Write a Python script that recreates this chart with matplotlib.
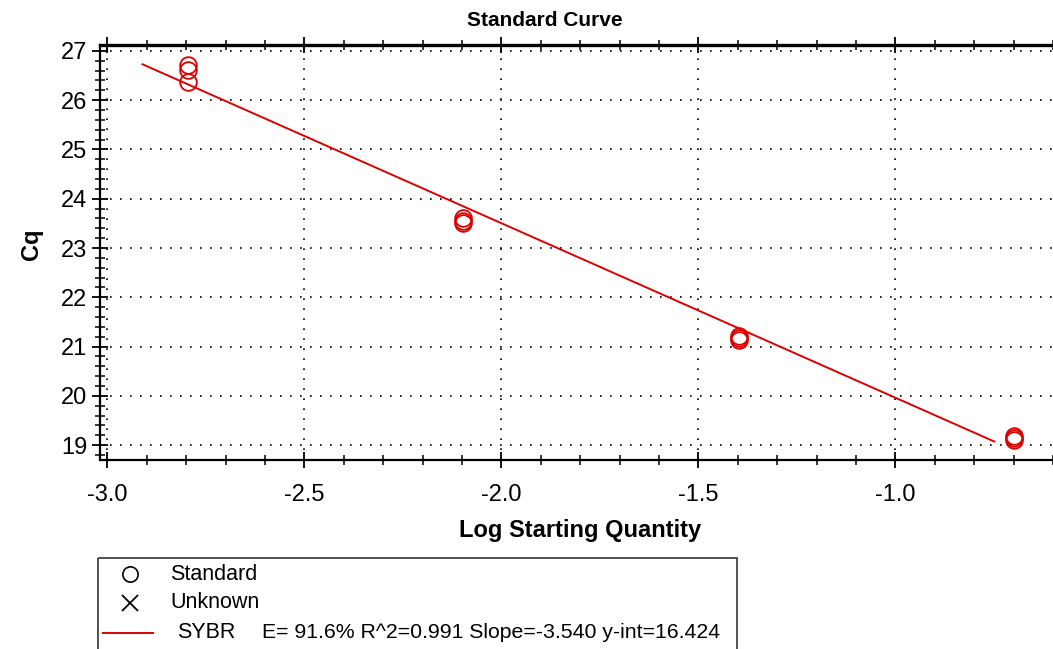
import matplotlib
matplotlib.use("Agg")
import matplotlib.pyplot as plt
from matplotlib.ticker import MultipleLocator, FormatStrFormatter
from matplotlib.patches import Rectangle

plt.rcParams['font.family'] = ['Liberation Sans', 'DejaVu Sans']

# Standard dilution series (log starting quantity) and replicate Cq values
log_qty = [-2.796, -2.796, -2.796,
           -2.097, -2.097, -2.097,
           -1.398, -1.398, -1.398,
           -0.699, -0.699, -0.699]
cq = [26.72, 26.61, 26.36,
      23.60, 23.55, 23.50,
      21.22, 21.17, 21.13,
      19.19, 19.14, 19.10]

# Fit parameters reported for the SYBR standard curve
fluor = "SYBR"
efficiency = 91.6
r_squared = 0.991
slope = -3.540
y_intercept = 16.424
fit_x_range = [-2.911, -0.749]

RED = "#dd0000"
W, H = 1053, 649
fig = plt.figure(figsize=(W / 100, H / 100), dpi=100)

# Main plot area (right edge runs slightly past the figure)
left_px, right_px, top_px, bottom_px = 100, 1060, 45, 460
ax = fig.add_axes([left_px / W, 1 - bottom_px / H,
                   (right_px - left_px) / W, (bottom_px - top_px) / H])
ax.set_xlim(-3.019, -0.582)
ax.set_ylim(18.70, 27.12)

ax.xaxis.set_major_locator(MultipleLocator(0.5))
ax.xaxis.set_minor_locator(MultipleLocator(0.1))
ax.yaxis.set_major_locator(MultipleLocator(1))
ax.yaxis.set_minor_locator(MultipleLocator(0.2))
ax.xaxis.set_major_formatter(FormatStrFormatter('%.1f'))

ax.grid(True, which='major', color='black', linestyle=(0, (1, 5)), linewidth=1.2)

ax.spines['right'].set_visible(False)
for side in ('left', 'bottom'):
    ax.spines[side].set_linewidth(1.6)
ax.spines['top'].set_linewidth(2.4)

ax.tick_params(axis='both', which='major', direction='inout', length=12,
               width=1.3, labelsize=17, colors='black')
ax.tick_params(axis='both', which='minor', direction='inout', length=7, width=1.1)
ax.tick_params(axis='x', which='both', top=True)
ax.tick_params(axis='x', which='major', pad=11)
ax.tick_params(axis='y', which='major', pad=3)
ax.set_axisbelow(False)

# Regression line from the reported slope and intercept
fx = fit_x_range
fy = [slope * v + y_intercept for v in fx]
ax.plot(fx, fy, color=RED, linewidth=1.4, zorder=3)

# Standards
ax.plot(log_qty, cq, linestyle='none', marker='o', markersize=12,
        markerfacecolor='none', markeredgecolor=RED, markeredgewidth=1.3, zorder=4)

fig.text(545 / W, 1 - 20 / H, "Standard Curve", fontsize=15, fontweight='bold',
         ha='center', va='center')
ax.set_xlabel("Log Starting Quantity", fontsize=17, fontweight='bold', labelpad=10)
ax.set_ylabel("Cq", fontsize=17, fontweight='bold')
ax.yaxis.set_label_coords(-0.059, 0.52)

# Legend box below the plot
lx0, lx1, ly0, ly1 = 97, 738, 557, 649
lax = fig.add_axes([lx0 / W, 0, (lx1 - lx0) / W, (H - ly0) / H])
lax.set_xlim(lx0, lx1)
lax.set_ylim(H, ly0)
lax.axis('off')
lax.add_patch(Rectangle((lx0 + 1, ly0 + 1), lx1 - lx0 - 2, ly1 + 20 - ly0,
                        fill=False, edgecolor='#333333', linewidth=1.2, clip_on=True))

rows = [574, 603, 633]
lax.plot([130], [rows[0]], marker='o', markersize=11, markerfacecolor='none',
         markeredgecolor='black', markeredgewidth=1.2, linestyle='none')
lax.plot([130], [rows[1]], marker='x', markersize=12, color='black',
         markeredgewidth=1.3, linestyle='none')
lax.plot([103, 153], [rows[2], rows[2]], color=RED, linewidth=1.4)

fs = 15.5
lax.text(170, rows[0], "Standard", fontsize=fs, va='center', ha='left')
lax.text(170, rows[1], "Unknown", fontsize=fs, va='center', ha='left')
lax.text(177, rows[2], fluor, fontsize=fs, va='center', ha='left')
stats = (f"E= {efficiency:.1f}% R^2={r_squared:.3f} "
         f"Slope={slope:.3f} y-int={y_intercept:.3f}")
lax.text(262, rows[2], stats, fontsize=15.3, va='center', ha='left')

fig.savefig("out.png", dpi=100, facecolor='white')
